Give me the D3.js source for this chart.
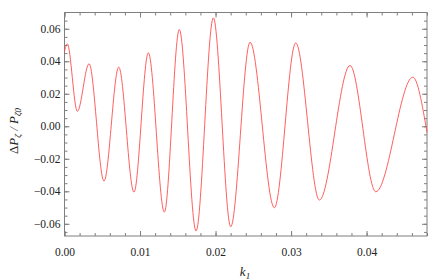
<!DOCTYPE html>
<html>
<head>
<meta charset="utf-8">
<script src="https://cdn.jsdelivr.net/npm/d3@7"></script>
<style>
  body { margin: 0; background: #fff; }
  .axTitle { font-family: "Liberation Serif", serif; font-style: italic; font-size: 13px; fill: #222; }
</style>
</head>
<body>
<div id="chart"></div>
<script>
var svgWidth = 441;
var svgHeight = 280;

// plot frame in pixels
var frameL = 64.5, frameR = 427, frameT = 12.5, frameB = 236;

// k_1 values and ΔP/P values (extrema of the oscillation)
var kVals = [0, 0.00037, 0.0017, 0.00325, 0.00523, 0.00718, 0.0092, 0.0111, 0.01322, 0.0152,
  0.01742, 0.01971, 0.02201, 0.02457, 0.02779, 0.03062, 0.03375, 0.03781, 0.04122, 0.04612, 0.048];
var dpVals = [0.046, 0.0507, 0.0092, 0.0385, -0.0337, 0.0364, -0.0405, 0.0452, -0.0528, 0.0595,
  -0.0644, 0.0667, -0.0618, 0.0517, -0.0501, 0.0513, -0.0454, 0.0374, -0.0403, 0.0302, -0.0037];

var xTicks = [0, 0.01, 0.02, 0.03, 0.04];
var yTicks = [-0.06, -0.04, -0.02, 0, 0.02, 0.04, 0.06];
var xMinor = d3.range(0, 0.0481, 0.002);
var yMinor = d3.range(-0.065, 0.0651, 0.005);

var svg = d3.select("#chart")
  .append("svg")
  .attr("width", svgWidth)
  .attr("height", svgHeight);

var x = d3.scaleLinear().domain([0, 0.048]).range([frameL, frameR]);
var y = d3.scaleLinear().domain([-0.0675, 0.07]).range([frameB, frameT]);

var fmt = function(d) {
  var s = d3.format(".2f")(Math.abs(d));
  return (d < -1e-9 ? "\u2212" : "") + s;
};

var axisColor = "#7f7f7f";

function styleAxis(g) {
  g.select(".domain").remove();
  g.selectAll(".tick line").attr("stroke", axisColor);
  g.selectAll(".tick text")
    .attr("font-family", "'Liberation Serif', serif")
    .attr("font-size", "11.5px")
    .attr("fill", "#222");
}

// minor ticks (inward) on all four sides
svg.append("g").attr("transform", `translate(0,${frameB})`)
  .call(d3.axisTop(x).tickValues(xMinor).tickSize(3).tickFormat(""))
  .call(styleAxis);
svg.append("g").attr("transform", `translate(0,${frameT})`)
  .call(d3.axisBottom(x).tickValues(xMinor).tickSize(3).tickFormat(""))
  .call(styleAxis);
svg.append("g").attr("transform", `translate(${frameL},0)`)
  .call(d3.axisRight(y).tickValues(yMinor).tickSize(3).tickFormat(""))
  .call(styleAxis);
svg.append("g").attr("transform", `translate(${frameR},0)`)
  .call(d3.axisLeft(y).tickValues(yMinor).tickSize(3).tickFormat(""))
  .call(styleAxis);

// major ticks, labelled on bottom and left
svg.append("g").attr("transform", `translate(0,${frameB})`)
  .call(d3.axisBottom(x).tickValues(xTicks).tickSizeInner(-5).tickSizeOuter(0).tickPadding(12).tickFormat(fmt))
  .call(styleAxis);
svg.append("g").attr("transform", `translate(0,${frameT})`)
  .call(d3.axisBottom(x).tickValues(xTicks).tickSize(5).tickFormat(""))
  .call(styleAxis);
svg.append("g").attr("transform", `translate(${frameL},0)`)
  .call(d3.axisLeft(y).tickValues(yTicks).tickSizeInner(-5).tickSizeOuter(0).tickPadding(4).tickFormat(fmt))
  .call(styleAxis);
svg.append("g").attr("transform", `translate(${frameR},0)`)
  .call(d3.axisLeft(y).tickValues(yTicks).tickSize(5).tickFormat(""))
  .call(styleAxis);

// frame
svg.append("rect")
  .attr("x", frameL).attr("y", frameT)
  .attr("width", frameR - frameL).attr("height", frameB - frameT)
  .attr("fill", "none").attr("stroke", axisColor).attr("stroke-width", 1);

// curve
var pts = kVals.map((k, i) => [k, dpVals[i]]);
var line = d3.line()
  .x(d => x(d[0]))
  .y(d => y(d[1]))
  .curve(d3.curveMonotoneX);

svg.append("path")
  .datum(pts)
  .attr("d", line)
  .attr("fill", "none")
  .attr("stroke", "#ff4d4d")
  .attr("stroke-width", 0.9);

// axis titles
var xt = svg.append("text").attr("class", "axTitle")
  .attr("x", 245).attr("y", 276).attr("text-anchor", "middle");
xt.append("tspan").text("k");
xt.append("tspan").attr("dy", 3).attr("font-size", "9px").text("1");

var yt = svg.append("text").attr("class", "axTitle")
  .attr("transform", "translate(18,131) rotate(-90)")
  .attr("text-anchor", "middle");
yt.append("tspan").attr("font-style", "normal").text("\u0394");
yt.append("tspan").text("P");
yt.append("tspan").attr("dy", 3).attr("font-size", "9px").text("\u03b6");
yt.append("tspan").attr("dy", -3).text(" / P");
yt.append("tspan").attr("dy", 3).attr("font-size", "9px").text("\u03b60");
</script>
</body>
</html>
